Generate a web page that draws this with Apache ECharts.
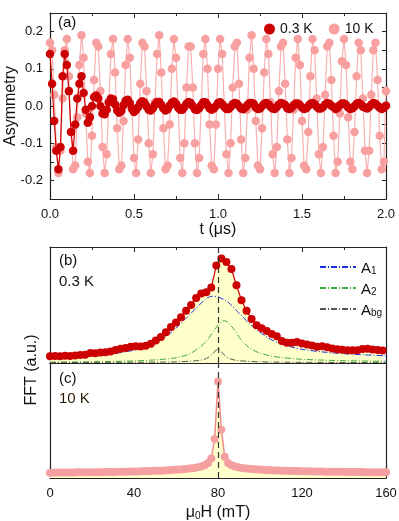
<!DOCTYPE html>
<html>
<head>
<meta charset="utf-8">
<script src="https://cdn.jsdelivr.net/npm/echarts@6/dist/echarts.min.js"></script>
<style>
html, body { margin: 0; padding: 0; background: #fff; }
#chart { width: 399px; height: 521px; }
</style>
</head>
<body>
<div id="chart"></div>
<script>
// (a) muon asymmetry, one value per time bin
var timeStep = 0.0125; // us
var asym03K = [
  0.14, 0.06, -0.04, -0.12, -0.17, -0.11, 0.08, 0.14, 0.11, 0.04,
  -0.07, -0.12, -0.05, 0.02, 0.06, 0.08, 0.035, -0.01, -0.045, -0.03,
  0.0, 0.024, 0.028, 0.02, 0.0, -0.02, -0.022, -0.01, 0.01, 0.02,
  0.018, 0.004, -0.012, -0.018, -0.013, 0.002, 0.014, 0.017, 0.008, -0.006,
  -0.016, -0.011, -0.003, 0.008, 0.013, 0.009, -0.001, -0.010, -0.012, -0.006,
  0.004, 0.011, 0.011, 0.003, -0.007, -0.012, -0.009, 0.001, 0.009, 0.012,
  0.006, -0.004, -0.010, -0.010, -0.003, 0.006, 0.011, 0.008, 0.000, -0.009,
  -0.011, -0.006, 0.003, 0.010, 0.010, 0.003, -0.006, -0.010, -0.007, 0.000,
  0.008, 0.010, 0.005, -0.002, -0.008, -0.008, -0.003, 0.005, 0.008, 0.006,
  0.000, -0.007, -0.009, -0.004, 0.003, 0.008, 0.008, 0.006, -0.004, -0.008,
  -0.007, 0.000, 0.006, 0.008, 0.005, -0.002, -0.007, -0.008, -0.003, 0.004,
  0.008, 0.006, 0.003, -0.006, -0.008, -0.005, 0.002, 0.007, 0.007, 0.003,
  -0.004, -0.008, -0.006, 0.000, 0.006, 0.008, 0.005, -0.002, -0.007, -0.007,
  -0.003, 0.004, 0.008, 0.006, 0.001, -0.003, -0.008, -0.005, 0.002, 0.007,
  0.007, 0.003, -0.004, -0.008, -0.006, -0.001, 0.006, 0.008, 0.005, -0.002,
  -0.004, -0.007, -0.003, 0.004, 0.008, 0.006, 0.001, -0.005, -0.008, -0.005,
  0.001
];
var asym10K = [
  0.17, 0.15, 0.03, -0.11, -0.18, -0.12, 0.02, 0.15, 0.18, 0.08,
  -0.07, -0.17, -0.16, -0.03, 0.11, 0.19, 0.13, -0.02, -0.15, -0.18,
  -0.08, 0.07, 0.17, 0.16, 0.04, -0.11, -0.18, -0.13, 0.01, 0.14,
  0.18, 0.09, -0.06, -0.17, -0.16, -0.04, 0.11, 0.18, 0.13, -0.01,
  -0.14, -0.18, -0.09, 0.06, 0.17, 0.16, 0.04, -0.10, -0.18, -0.13,
  0.01, 0.14, 0.19, 0.09, -0.06, -0.17, -0.16, -0.05, 0.10, 0.18,
  0.13, 0.00, -0.14, -0.18, -0.10, 0.05, 0.16, 0.16, 0.05, -0.10,
  -0.18, -0.14, 0.00, 0.14, 0.18, 0.10, -0.05, -0.16, -0.17, -0.05,
  0.10, 0.18, 0.14, 0.00, -0.13, -0.18, -0.10, 0.05, 0.16, 0.17,
  0.06, -0.09, -0.18, -0.14, -0.01, 0.13, 0.19, 0.10, -0.04, -0.16,
  -0.17, -0.06, 0.09, 0.18, 0.14, 0.01, -0.13, -0.18, -0.11, 0.04,
  0.16, 0.17, 0.06, -0.09, -0.18, -0.14, -0.01, 0.13, 0.18, 0.11,
  -0.04, -0.16, -0.17, -0.07, 0.08, 0.18, 0.15, 0.02, -0.13, -0.18,
  -0.11, 0.03, 0.16, 0.17, 0.07, -0.08, -0.18, -0.15, -0.02, 0.12,
  0.18, 0.11, -0.03, -0.15, -0.17, -0.07, 0.08, 0.17, 0.15, 0.02,
  -0.12, -0.18, -0.12, 0.03, 0.15, 0.17, 0.07, -0.08, -0.17, -0.15,
  0.04
];

// (b) FFT at 0.3 K, field step in mT
var fieldStepB = 2.4;
var fft03K = [
  0.058, 0.060, 0.058, 0.062, 0.060, 0.064, 0.068, 0.072, 0.086, 0.084,
  0.090, 0.092, 0.100, 0.112, 0.122, 0.130, 0.140, 0.145, 0.142, 0.148,
  0.165, 0.195, 0.225, 0.265, 0.310, 0.350, 0.395, 0.450, 0.500, 0.560,
  0.600, 0.610, 0.650, 0.840, 0.900, 0.870, 0.810, 0.670, 0.540, 0.450,
  0.380, 0.325, 0.300, 0.275, 0.250, 0.230, 0.190, 0.175, 0.175, 0.180,
  0.168, 0.160, 0.150, 0.140, 0.145, 0.135, 0.124, 0.118, 0.115, 0.110,
  0.110, 0.110, 0.120, 0.122, 0.116, 0.112, 0.108
];
var fitA1 = [[0,0.045],[10,0.052],[20,0.063],[30,0.08],[40,0.11],[45,0.135],[50,0.17],
  [55,0.225],[60,0.3],[65,0.39],[70,0.48],[74,0.55],[77,0.575],[80,0.57],[83,0.545],
  [86,0.505],[90,0.43],[95,0.34],[100,0.265],[105,0.205],[110,0.165],[115,0.138],
  [120,0.118],[130,0.095],[140,0.08],[150,0.07],[160,0.062]];
var fitA2 = [[0,0.008],[20,0.01],[40,0.018],[50,0.027],[60,0.045],[66,0.075],[71,0.13],
  [75,0.2],[78,0.28],[81,0.345],[83,0.365],[85,0.345],[88,0.28],[91,0.2],[95,0.13],
  [100,0.085],[105,0.062],[110,0.048],[120,0.032],[140,0.02],[160,0.015]];
var fitAbg = [[0,0.004],[40,0.006],[60,0.01],[70,0.02],[74,0.035],[77,0.07],[80,0.12],
  [83,0.07],[86,0.035],[90,0.02],[100,0.01],[120,0.006],[160,0.004]];

// (c) FFT at 10 K
var fieldStepC = 1.6;
var fft10K = [
  0.046, 0.046, 0.047, 0.047, 0.047, 0.048, 0.048, 0.048, 0.049, 0.049,
  0.049, 0.050, 0.050, 0.050, 0.051, 0.051, 0.052, 0.052, 0.053, 0.053,
  0.054, 0.054, 0.055, 0.055, 0.056, 0.057, 0.057, 0.058, 0.059, 0.060,
  0.061, 0.062, 0.063, 0.064, 0.066, 0.067, 0.069, 0.071, 0.073, 0.075,
  0.078, 0.081, 0.084, 0.088, 0.093, 0.100, 0.110, 0.130, 0.170, 0.340,
  0.840, 0.420, 0.185, 0.130, 0.110, 0.100, 0.093, 0.088, 0.084, 0.081,
  0.078, 0.076, 0.074, 0.072, 0.070, 0.069, 0.067, 0.066, 0.065, 0.064,
  0.063, 0.062, 0.061, 0.060, 0.060, 0.059, 0.058, 0.058, 0.057, 0.057,
  0.056, 0.056, 0.055, 0.055, 0.055, 0.054, 0.054, 0.054, 0.053, 0.053,
  0.053, 0.052, 0.052, 0.052, 0.051, 0.051, 0.051, 0.050, 0.050, 0.050,
  0.049
];
var centerField = 80; // mT, applied field

var FONT = 'Liberation Sans, Arial, sans-serif';
var FRAME = '#222';
var YELLOW = '#ffffcc';

function toPairs(step, vals) {
  return vals.map(function (v, i) { return [+(i * step).toFixed(4), v]; });
}

function frameX(grid, pos, min, max, interval, opts) {
  var ax = {
    type: 'value', gridIndex: grid, position: pos, min: min, max: max, interval: interval,
    axisLine: { show: true, onZero: false, lineStyle: { color: FRAME, width: 1.2 } },
    axisTick: { show: true, inside: true, length: 5, lineStyle: { color: FRAME } },
    minorTick: { show: true, splitNumber: 2, length: 3, lineStyle: { color: FRAME } },
    axisLabel: { show: false },
    splitLine: { show: false }
  };
  for (var k in opts) ax[k] = opts[k];
  return ax;
}

function frameY(grid, pos, min, max, opts) {
  var ax = {
    type: 'value', gridIndex: grid, position: pos, min: min, max: max,
    axisLine: { show: true, onZero: false, lineStyle: { color: FRAME, width: 1.2 } },
    axisTick: { show: false },
    axisLabel: { show: false },
    splitLine: { show: false }
  };
  for (var k in opts) ax[k] = opts[k];
  return ax;
}

var tickLabel = { show: true, fontFamily: FONT, fontSize: 13, color: '#111', margin: 9 };
var fitDash = [6, 2, 1, 2];

var chart = echarts.init(document.getElementById('chart'), null, { renderer: 'canvas' });

var option = {
  animation: false,
  backgroundColor: '#fff',
  grid: [
    { left: 50, top: 13, width: 336, height: 186, outerBoundsMode: 'none', containLabel: false },
    { left: 50, top: 247, width: 336, height: 116, outerBoundsMode: 'none', containLabel: false },
    { left: 50, top: 363, width: 336, height: 115, outerBoundsMode: 'none', containLabel: false }
  ],
  xAxis: [
    frameX(0, 'bottom', 0, 2, 0.5, {
      axisLabel: Object.assign({}, tickLabel, { formatter: function (v) { return v.toFixed(1); } }),
      name: 't (\u03bcs)', nameLocation: 'middle', nameGap: 22,
      nameTextStyle: { fontFamily: FONT, fontSize: 16, color: '#111' }
    }),
    frameX(0, 'top', 0, 2, 0.5, {}),
    frameX(1, 'bottom', 0, 160, 40, {}),
    frameX(1, 'top', 0, 160, 40, {}),
    frameX(2, 'bottom', 0, 160, 40, {
      axisLabel: Object.assign({}, tickLabel),
      name: '{m|\u03bc}{s|0}{m|H (mT)}', nameLocation: 'middle', nameGap: 21,
      nameTextStyle: {
        fontFamily: FONT, fontSize: 16, color: '#111',
        rich: {
          m: { fontFamily: FONT, fontSize: 16, color: '#111', lineHeight: 22, verticalAlign: 'bottom' },
          s: { fontFamily: FONT, fontSize: 10, color: '#111', lineHeight: 10, verticalAlign: 'bottom' }
        }
      }
    }),
    frameX(2, 'top', 0, 160, 40, { axisTick: { show: false }, minorTick: { show: false } })
  ],
  yAxis: [
    frameY(0, 'left', -0.25, 0.25, {
      interval: 0.05,
      axisTick: { show: true, inside: true, length: 4, lineStyle: { color: FRAME } },
      axisLabel: Object.assign({}, tickLabel, {
        margin: 7,
        formatter: function (v) {
          var r = Math.round(v * 100);
          if (r % 10 !== 0 || Math.abs(r) > 20) return '';
          return (r / 100).toFixed(1);
        }
      }),
      name: 'Asymmetry', nameLocation: 'middle', nameGap: 31, nameMoveOverlap: false,
      nameTextStyle: { fontFamily: FONT, fontSize: 16, color: '#111' }
    }),
    frameY(0, 'right', -0.25, 0.25, {
      interval: 0.05,
      axisTick: { show: true, inside: true, length: 4, lineStyle: { color: FRAME } }
    }),
    frameY(1, 'left', 0, 1, {}),
    frameY(1, 'right', 0, 1, {}),
    frameY(2, 'left', 0, 1, {}),
    frameY(2, 'right', 0, 1, {})
  ],
  legend: [
    {
      data: ['0.3 K', '10 K'], left: 259, top: 17, orient: 'horizontal',
      icon: 'circle', itemWidth: 11, itemHeight: 11, itemGap: 16,
      textStyle: { fontFamily: FONT, fontSize: 14, color: '#111' },
      selectedMode: false
    },
    {
      data: ['A1', 'A2', 'Abg'], left: 314, top: 256, orient: 'vertical',
      itemWidth: 36, itemHeight: 10, itemGap: 6,
      selectedMode: false,
      itemStyle: { opacity: 0 },
      formatter: function (n) {
        var sub = { A1: '1', A2: '2', Abg: 'bg' }[n];
        return '{m|A}{s|' + sub + '}';
      },
      textStyle: {
        fontFamily: FONT, fontSize: 15, color: '#111',
        rich: {
          m: { fontFamily: FONT, fontSize: 15, color: '#111', lineHeight: 18, verticalAlign: 'bottom' },
          s: { fontFamily: FONT, fontSize: 10, color: '#111', lineHeight: 10, verticalAlign: 'bottom' }
        }
      }
    }
  ],
  graphic: [
    { type: 'text', left: 58, top: 15, style: { text: '(a)', font: '15px ' + FONT, fill: '#111' } },
    { type: 'text', left: 59, top: 253, style: { text: '(b)', font: '15px ' + FONT, fill: '#111' } },
    { type: 'text', left: 59, top: 274, style: { text: '0.3 K', font: '15px ' + FONT, fill: '#111' } },
    { type: 'text', left: 59, top: 371, style: { text: '(c)', font: '15px ' + FONT, fill: '#111' } },
    { type: 'text', left: 59, top: 391, style: { text: '10 K', font: '15px ' + FONT, fill: '#2a1a08' } },
    {
      type: 'text', x: 32, y: 370, rotation: Math.PI / 2,
      style: { text: 'FFT (a.u.)', font: '16px ' + FONT, fill: '#111', align: 'center', verticalAlign: 'middle' }
    }
  ],
  series: [
    {
      name: '10 K', type: 'line', xAxisIndex: 0, yAxisIndex: 0,
      data: toPairs(timeStep, asym10K),
      symbol: 'circle', symbolSize: 8.5, showAllSymbol: true,
      itemStyle: { color: '#f8a0a0' },
      lineStyle: { color: '#f9b0b0', width: 1.2 },
      z: 2
    },
    {
      name: '0.3 K', type: 'line', xAxisIndex: 0, yAxisIndex: 0,
      data: toPairs(timeStep, asym03K),
      symbol: 'circle', symbolSize: 8.5, showAllSymbol: true,
      itemStyle: { color: '#cc0000' },
      lineStyle: { color: '#cc0000', width: 1.2 },
      z: 3
    },
    {
      name: 'fill b', type: 'line', xAxisIndex: 2, yAxisIndex: 2,
      data: toPairs(fieldStepB, fft03K), symbol: 'none',
      lineStyle: { width: 0, opacity: 0 },
      areaStyle: { color: YELLOW, opacity: 1 },
      markLine: {
        silent: true, symbol: ['none', 'none'], label: { show: false },
        lineStyle: { color: '#333', type: [6, 4], width: 1.2 },
        data: [{ xAxis: centerField }]
      },
      z: 1
    },
    {
      name: 'A1', type: 'line', xAxisIndex: 2, yAxisIndex: 2, data: fitA1,
      symbol: 'none', smooth: 0.3, itemStyle: { color: '#1f2fe0' },
      lineStyle: { color: '#1f2fe0', width: 1, type: fitDash }, z: 2
    },
    {
      name: 'A2', type: 'line', xAxisIndex: 2, yAxisIndex: 2, data: fitA2,
      symbol: 'none', smooth: 0.3, itemStyle: { color: '#3faa3f' },
      lineStyle: { color: '#3faa3f', width: 1, type: fitDash }, z: 2
    },
    {
      name: 'Abg', type: 'line', xAxisIndex: 2, yAxisIndex: 2, data: fitAbg,
      symbol: 'none', smooth: 0.3, itemStyle: { color: '#555' },
      lineStyle: { color: '#555', width: 1, type: fitDash }, z: 2
    },
    {
      name: 'FFT 0.3 K', type: 'line', xAxisIndex: 2, yAxisIndex: 2,
      data: toPairs(fieldStepB, fft03K),
      symbol: 'circle', symbolSize: 8, showAllSymbol: true,
      itemStyle: { color: '#cc0000' },
      lineStyle: { color: '#cc0000', width: 1.2 },
      z: 3
    },
    {
      name: 'fill c', type: 'line', xAxisIndex: 4, yAxisIndex: 4,
      data: toPairs(fieldStepC, fft10K), symbol: 'none',
      lineStyle: { width: 0, opacity: 0 },
      areaStyle: { color: YELLOW, opacity: 1 },
      markLine: {
        silent: true, symbol: ['none', 'none'], label: { show: false },
        lineStyle: { color: '#333', type: [6, 4], width: 1.2 },
        data: [{ xAxis: centerField }]
      },
      z: 1
    },
    {
      name: 'FFT 10 K', type: 'line', xAxisIndex: 4, yAxisIndex: 4,
      data: toPairs(fieldStepC, fft10K),
      symbol: 'circle', symbolSize: 8, showAllSymbol: true,
      itemStyle: { color: '#f5a0a0' },
      lineStyle: { color: '#f08a8a', width: 1.5 },
      z: 3
    }
  ]
};

chart.setOption(option);
window.onresize = chart.resize;
</script>
</body>
</html>
